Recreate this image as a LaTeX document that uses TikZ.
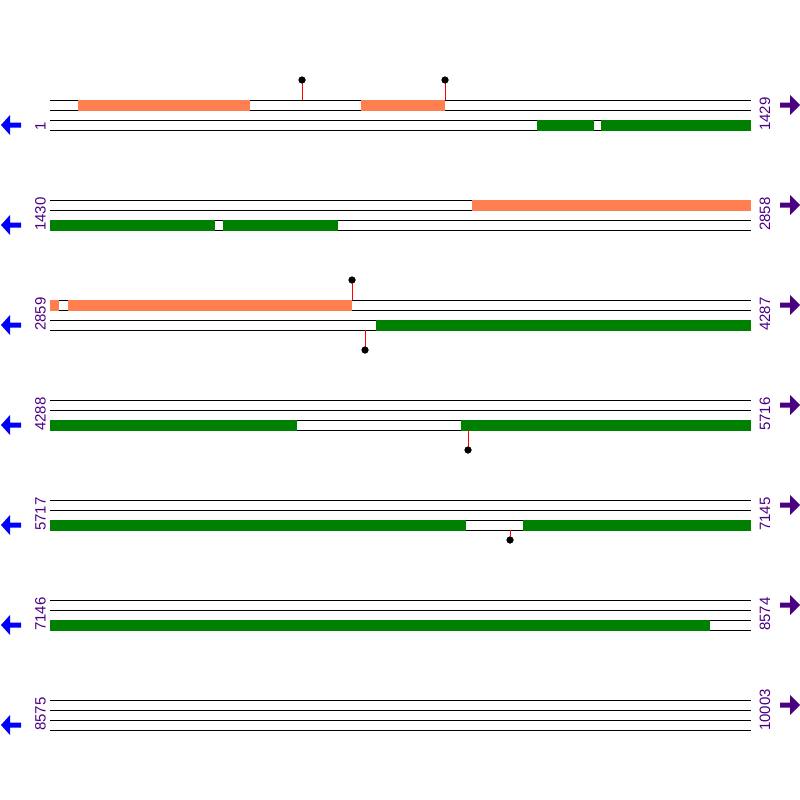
\documentclass[tikz,border=0pt]{standalone}
\usepackage{fontspec}
\setmainfont{Liberation Sans}
\definecolor{lbl}{RGB}{75,0,130}
\definecolor{orng}{RGB}{255,127,80}
\definecolor{grn}{RGB}{0,128,0}
\tikzset{
  strand/.style={black, line width=1pt},
  obar/.style={fill=orng, draw=none},
  gbar/.style={fill=grn, draw=none},
  stick/.style={red, line width=1pt},
  lolli/.style={circle, fill=black, inner sep=0pt, minimum size=7pt},
  numlbl/.style={rotate=90, anchor=west, inner sep=0pt, text=lbl, font=\fontsize{15}{15}\selectfont},
  larrow/.style={fill=blue, draw=none},
  rarrow/.style={fill=lbl, draw=none}
}
\begin{document}
\begin{tikzpicture}[x=1pt,y=-1pt]
\useasboundingbox (0,0) rectangle (800,800);
% strands
\foreach \r in {0,...,6}{
  \pgfmathsetmacro{\yz}{100+100*\r}
  \foreach \d in {0,10,20,30}{
    \draw[strand] (50,\yz+\d) -- (751,\yz+\d);
  }
  % left arrow (bottom strand)
  \fill[larrow] (1,\yz+25) -- (10,\yz+15) -- (10,\yz+22.5) -- (21,\yz+22.5) -- (21,\yz+27.5) -- (10,\yz+27.5) -- (10,\yz+35) -- cycle;
  % right arrow (top strand)
  \fill[rarrow] (800,\yz+5) -- (790,\yz-5) -- (790,\yz+2.5) -- (780,\yz+2.5) -- (780,\yz+7.5) -- (790,\yz+7.5) -- (790,\yz+15) -- cycle;
}
% row 1
\fill[obar] (78,100) rectangle (250,110.5);
\fill[obar] (361,100) rectangle (445,110.5);
\fill[gbar] (537,120) rectangle (594,130.5);
\fill[gbar] (601,120) rectangle (751,130.5);
% row 2
\fill[obar] (472,200) rectangle (751,210.5);
\fill[gbar] (50,220) rectangle (215,230.5);
\fill[gbar] (223,220) rectangle (338,230.5);
% row 3
\fill[obar] (50,300) rectangle (59,310.5);
\fill[obar] (68,300) rectangle (352,310.5);
\fill[gbar] (376,320) rectangle (751,330.5);
% row 4
\fill[gbar] (50,420) rectangle (297,430.5);
\fill[gbar] (461,420) rectangle (751,430.5);
% row 5
\fill[gbar] (50,520) rectangle (466,530.5);
\fill[gbar] (523,520) rectangle (751,530.5);
% row 6
\fill[gbar] (50,620) rectangle (710,630.5);
% lollipops
\coordinate (s1) at (302,100);  \node[lolli] (c1) at (302,80) {};
\coordinate (s2) at (445,100);  \node[lolli] (c2) at (445,80) {};
\coordinate (s3) at (352,300);  \node[lolli] (c3) at (352,280) {};
\coordinate (s4) at (365,330);  \node[lolli] (c4) at (365,350) {};
\coordinate (s5) at (468,430);  \node[lolli] (c5) at (468,450) {};
\coordinate (s6) at (510,530);  \node[lolli] (c6) at (510,540) {};
\foreach \i in {1,...,6}{ \draw[stick] (s\i) -- (c\i.center); }
\foreach \i in {1,...,6}{ \node[lolli] at (c\i) {}; }
% labels
\node[numlbl] (l1) at (40.5,131) {1};
\node[numlbl] (r1) at (765,131) {1429};
\node[numlbl] (l2) at (40.5,231) {1430};
\node[numlbl] (r2) at (765,231) {2858};
\node[numlbl] (l3) at (40.5,331) {2859};
\node[numlbl] (r3) at (765,331) {4287};
\node[numlbl] (l4) at (40.5,431) {4288};
\node[numlbl] (r4) at (765,431) {5716};
\node[numlbl] (l5) at (40.5,531) {5717};
\node[numlbl] (r5) at (765,531) {7145};
\node[numlbl] (l6) at (40.5,631) {7146};
\node[numlbl] (r6) at (765,631) {8574};
\node[numlbl] (l7) at (40.5,731) {8575};
\node[numlbl] (r7) at (765,731) {10003};
\end{tikzpicture}
\end{document}
